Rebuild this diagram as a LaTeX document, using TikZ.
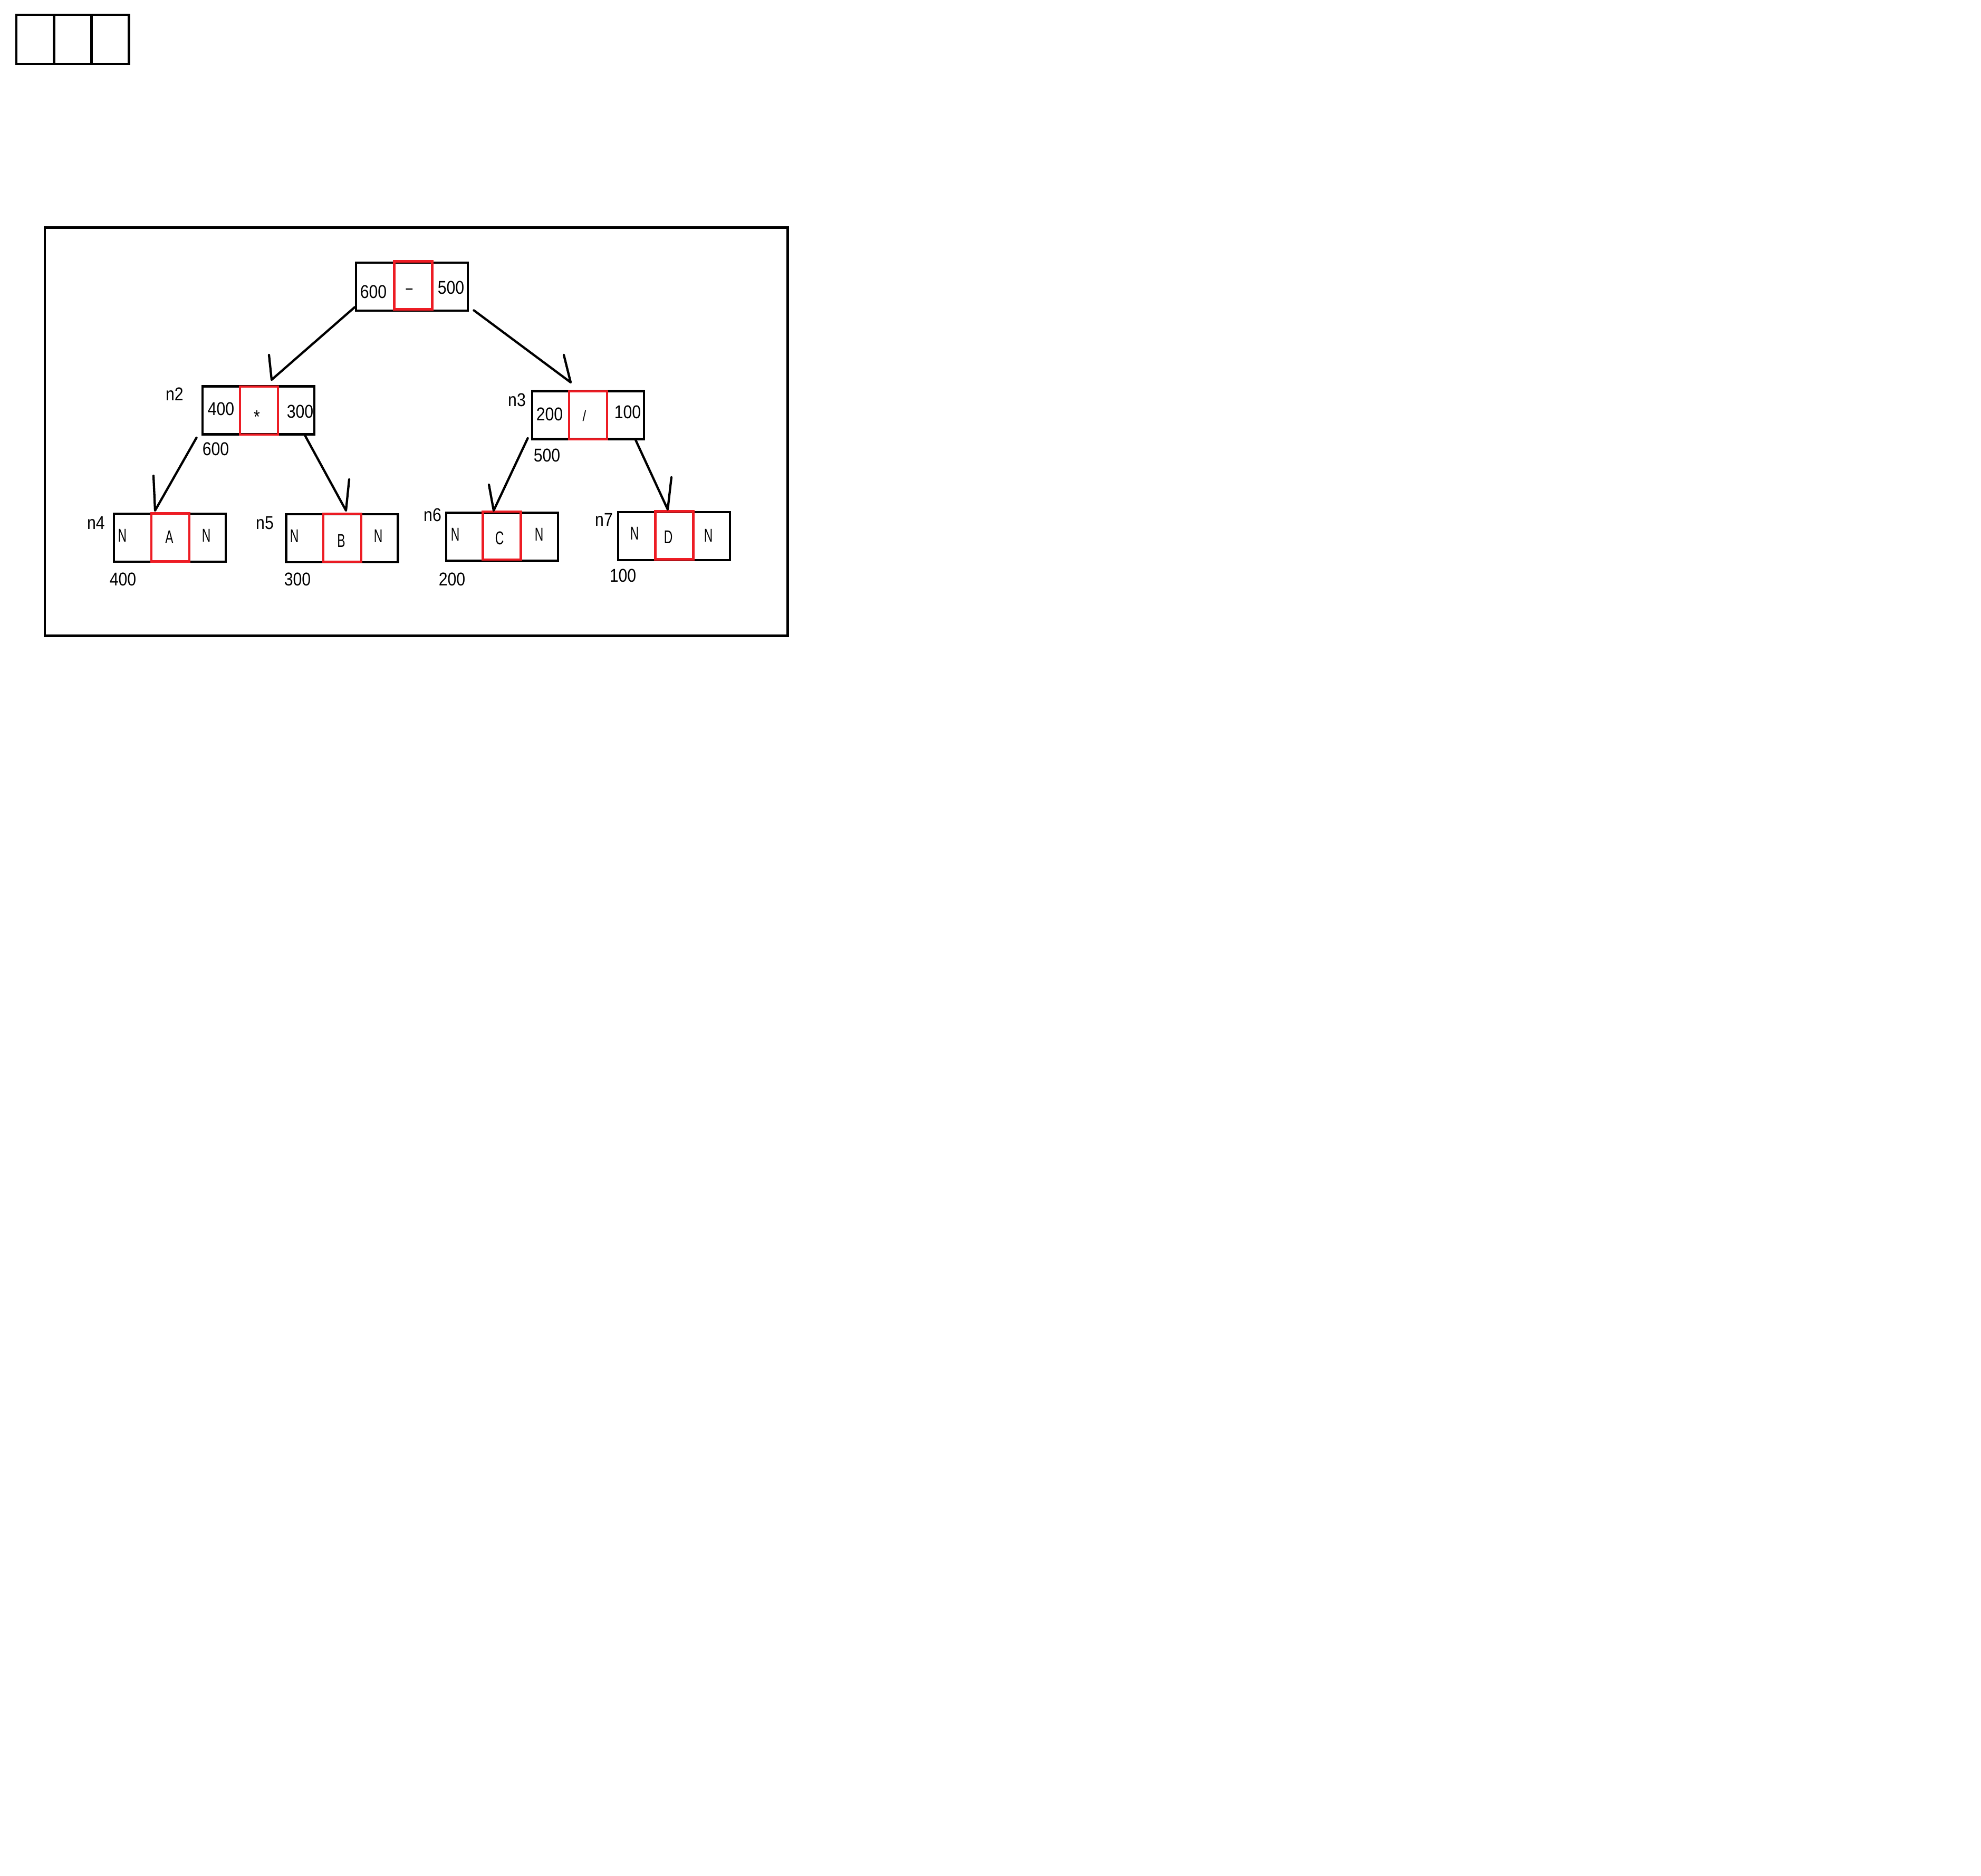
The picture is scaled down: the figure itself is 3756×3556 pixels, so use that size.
\documentclass[tikz,border=0pt]{standalone}
\usepackage{fontspec}
\setmainfont{Liberation Sans}
\newfontfamily\numfont[FakeStretch=0.86]{Liberation Sans}
\newfontfamily\cellfont[FakeStretch=0.65]{Liberation Sans}
\definecolor{paintred}{RGB}{237,28,36}

\tikzset{
  record/.style={draw, line width=1.34pt, minimum width=2.12cm, minimum height=0.91cm, inner sep=0pt},
  opcell/.style={draw=paintred, line width=1.34pt, minimum width=0.72cm, minimum height=0.91cm, inner sep=0pt},
  emptycell/.style={draw, line width=1.34pt, minimum width=0.712cm, minimum height=0.93cm, inner sep=0pt},
  num/.style={font=\numfont\fontsize{10}{12}\selectfont, inner sep=0pt, anchor=base},
  letter/.style={font=\cellfont\fontsize{10}{12}\selectfont, inner sep=0pt, anchor=base},
  link/.style={line width=1.22pt, line cap=round, line join=round},
}

\begin{document}
\begin{tikzpicture}[x=0.01cm,y=-0.01cm]
\useasboundingbox (0,0) rectangle (3756,3556);

%Shape: empty record
\node[emptycell] (blank1) at (66.6,74.5) {};
\node[emptycell] (blank2) at (137.8,74.5) {};
\node[emptycell] (blank3) at (209,74.5) {};

%Shape: Frame
\draw[line width=1.34pt] (85,431.5) rectangle (1493.5,1205.5);

%Shape: Records
\node[record] (r) at (781,543.5) {};
\node[record] (n2) at (490,778) {};
\node[record] (n3) at (1115,787) {};
\node[record] (n4) at (322,1019.5) {};
\node[record] (n5) at (648.5,1020.5) {};
\node[record] (n6) at (952,1018) {};
\node[record] (n7) at (1278,1016.5) {};
%Shape: operator cells
\node[opcell] (r-op) at (783.5,541) {};
\node[opcell] (n2-op) at (491,778.5) {};
\node[opcell] (n3-op) at (1115,787.5) {};
\node[opcell] (n4-op) at (323,1019) {};
\node[opcell] (n5-op) at (649,1019.5) {};
\node[opcell] (n6-op) at (951.5,1015.5) {};
\node[opcell] (n7-op) at (1278.5,1015) {};

%Straight Lines: links with one barb
\coordinate (tip2) at (515,720);   \coordinate (barb2) at (510,673);
\coordinate (tip3) at (1082,725);  \coordinate (barb3) at (1069,673);
\coordinate (tip4) at (294,968);   \coordinate (barb4) at (291,902);
\coordinate (tip5) at (656,968);   \coordinate (barb5) at (662,909);
\coordinate (tip6) at (936,968);   \coordinate (barb6) at (927,919);
\coordinate (tip7) at (1266,966);  \coordinate (barb7) at (1273,905);
\draw[link] ([yshift=0.09cm]r.south west) -- (tip2) -- (barb2);
\draw[link] ([xshift=0.09cm,yshift=0.03cm]r.south east) -- (tip3) -- (barb3);
\draw[link] ([xshift=-0.09cm,yshift=-0.04cm]n2.south west) -- (tip4) -- (barb4);
\draw[link] ([xshift=-0.2cm]n2.south east) -- (tip5) -- (barb5);
\draw[link] ([xshift=-0.06cm,yshift=0.04cm]n3.south west) -- (tip6) -- (barb6);
\draw[link] ([xshift=-0.18cm]n3.south east) -- (tip7) -- (barb7);

% Text Node: root
\node[num] (r-l) at (708,565) {600};
\node[letter] (r-m) at (776,557) {–};
\node[num] (r-r) at (855,557) {500};
% Text Node: n2
\node[num] (n2-name) at (331,759) {n2};
\node[num] (n2-l) at (419,787) {400};
\node[num] (n2-m) at (487,802) {*};
\node[num] (n2-r) at (569,792) {300};
\node[num] (n2-val) at (409,863) {600};
% Text Node: n3
\node[num] (n3-name) at (980,770) {n3};
\node[num] (n3-l) at (1042,797) {200};
\node[num, font=\numfont\fontsize{8}{9}\selectfont] (n3-m) at (1108,798) {/};
\node[num] (n3-r) at (1190,793) {100};
\node[num] (n3-val) at (1037,875) {500};
% Text Node: n4
\node[num] (n4-name) at (182,1003) {n4};
\node[letter] (n4-l) at (232,1027) {N};
\node[letter] (n4-m) at (321,1030) {A};
\node[letter] (n4-r) at (391,1027) {N};
\node[num] (n4-val) at (233,1110) {400};
% Text Node: n5
\node[num] (n5-name) at (502,1003) {n5};
\node[letter] (n5-l) at (558,1028) {N};
\node[letter] (n5-m) at (647,1037) {B};
\node[letter] (n5-r) at (717,1028) {N};
\node[num] (n5-val) at (564,1110) {300};
% Text Node: n6
\node[num] (n6-name) at (820,988) {n6};
\node[letter] (n6-l) at (863,1025) {N};
\node[letter] (n6-m) at (947,1032) {C};
\node[letter] (n6-r) at (1022,1025) {N};
\node[num] (n6-val) at (857,1110) {200};
% Text Node: n7
\node[num] (n7-name) at (1145,997) {n7};
\node[letter] (n7-l) at (1203,1023) {N};
\node[letter] (n7-m) at (1267,1030) {D};
\node[letter] (n7-r) at (1343,1027) {N};
\node[num] (n7-val) at (1181,1103) {100};

\end{tikzpicture}
\end{document}
